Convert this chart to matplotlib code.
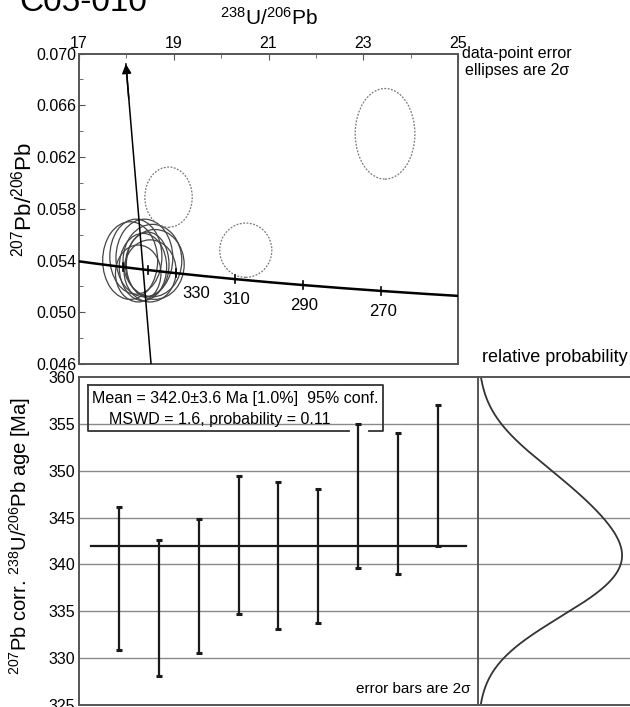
import numpy as np
import matplotlib.pyplot as plt
from matplotlib.patches import Ellipse

plt.rcParams['font.family'] = ['Liberation Sans', 'DejaVu Sans']
plt.rcParams['mathtext.fontset'] = 'custom'
plt.rcParams['mathtext.rm'] = 'Liberation Sans'
plt.rcParams['mathtext.it'] = 'Liberation Sans'

# decay constants (1/yr) and present-day 238U/235U
L238 = 1.55125e-10
L235 = 9.8485e-10
U85 = 137.88

# 207Pb-corrected 238U/206Pb ages, ends of the 2-sigma bars [Ma]
age_hi = [346.1, 342.6, 344.8, 349.4, 348.8, 348.0, 355.0, 354.0, 357.0]
age_lo = [330.9, 328.1, 330.6, 334.7, 333.1, 333.8, 339.6, 339.0, 342.0]
mean_age = 342.0
mean_err = 3.6

# Tera-Wasserburg ellipses of the accepted points (centre, half-axes)
ell_x = [18.08, 18.20, 18.38, 18.55, 18.60, 18.35, 18.45, 18.25, 18.50]
ell_y = [0.0540, 0.0543, 0.0542, 0.0540, 0.0537, 0.0535, 0.0537, 0.0530, 0.0532]
ell_w = [0.58, 0.55, 0.60, 0.62, 0.62, 0.50, 0.45, 0.48, 0.55]
ell_h = [0.0030, 0.0029, 0.0030, 0.0028, 0.0027, 0.0026, 0.0025, 0.0022, 0.0024]

# rejected points (dashed)
rej_x = [18.89, 20.52, 23.46]
rej_y = [0.0589, 0.0548, 0.0638]
rej_w = [0.50, 0.55, 0.63]
rej_h = [0.00233, 0.0021, 0.0035]

conc_ticks = [350, 340, 330, 310, 290, 270]
conc_labels = ['', '', '330', '310', '290', '270']
common_76 = 0.855


def tw_point(t_ma):
    t = np.asarray(t_ma) * 1e6
    e8 = np.exp(L238 * t) - 1
    e5 = np.exp(L235 * t) - 1
    return 1 / e8, e5 / e8 / U85


fig = plt.figure(figsize=(6.3, 7.07), dpi=100)
ax1 = fig.add_axes([0.1254, 0.4851, 0.6016, 0.4391])
ax2 = fig.add_axes([0.1254, 0.0028, 0.6333, 0.4640])
ax3 = fig.add_axes([0.7587, 0.0028, 0.2413, 0.4640], sharey=ax2)

frame = '#555555'
for ax in (ax1, ax2, ax3):
    for s in ax.spines.values():
        s.set_color(frame)
        s.set_linewidth(1.4)

# ---- concordia panel ----
ax1.set_xlim(17, 25)
ax1.set_ylim(0.046, 0.070)
ax1.xaxis.tick_top()
ax1.set_xticks([17, 19, 21, 23, 25])
ax1.set_xticks([18, 20, 22, 24], minor=True)
ax1.set_yticks(np.arange(0.046, 0.0701, 0.004))
ax1.set_yticks(np.arange(0.048, 0.0701, 0.004), minor=True)
ax1.yaxis.set_major_formatter(plt.FormatStrFormatter('%.3f'))
ax1.tick_params(which='both', direction='in', color=frame, labelsize=11.5,
                pad=2, right=False, bottom=False)
ax1.tick_params(which='major', length=4)
ax1.tick_params(which='minor', length=3)
ax1.set_xlabel('$^{238}$U/$^{206}$Pb', fontsize=15, labelpad=8)
ax1.xaxis.set_label_position('top')
ax1.set_ylabel('$^{207}$Pb/$^{206}$Pb', fontsize=16)
ax1.yaxis.set_label_coords(-0.112, 0.53)

t = np.linspace(250, 372, 400)
cx, cy = tw_point(t)
ax1.plot(cx, cy, color='black', lw=1.8, zorder=3)

for tk, lab in zip(conc_ticks, conc_labels):
    px, py = tw_point(tk)
    ax1.plot([px, px], [py - 0.0003, py + 0.0003], color='black', lw=1.2, zorder=3)
    if lab:
        dx = 15 if lab == '330' else 1
        ax1.annotate(lab, (px, py), xytext=(dx, -15), textcoords='offset points',
                     ha='center', va='center', fontsize=12)

for x, y, w, h in zip(ell_x, ell_y, ell_w, ell_h):
    ax1.add_patch(Ellipse((x, y), 2 * w, 2 * h, fill=False,
                          edgecolor='#444444', lw=0.9, zorder=2))
for x, y, w, h in zip(rej_x, rej_y, rej_w, rej_h):
    ax1.add_patch(Ellipse((x, y), 2 * w, 2 * h, fill=False, edgecolor='#777777',
                          lw=0.9, ls=(0, (1.5, 1.2)), zorder=2))

# regression from common Pb through the intercept age
ix, iy = tw_point(mean_age)
slope = (iy - common_76) / ix
y_bot, y_tip = 0.046, 0.0692
x_bot = (y_bot - common_76) / slope
x_tip = (y_tip - common_76) / slope
ax1.plot([x_bot, x_tip], [y_bot, y_tip], color='black', lw=1.1, zorder=3)
y_from = 0.0665
ax1.annotate('', xy=(x_tip, y_tip), xytext=((y_from - common_76) / slope, y_from),
             arrowprops=dict(arrowstyle='-|>', color='black', lw=1.1,
                             mutation_scale=14, shrinkA=0, shrinkB=0))

fig.text(0.82, 0.912, 'data-point error\nellipses are 2σ', ha='center',
         va='center', fontsize=11.5, linespacing=1.2)

# ---- weighted-mean panel ----
n = len(age_hi)
pos = np.arange(1, n + 1)
ax2.set_xlim(0, 10)
ax2.set_ylim(325, 360)
ax2.set_yticks(np.arange(325, 361, 5))
ax2.set_xticks([])
ax2.tick_params(axis='y', length=0, labelsize=11.5, pad=3)
ax2.spines['right'].set_visible(False)
for g in np.arange(330, 360, 5):
    ax2.axhline(g, color='#8a8a8a', lw=1.0, zorder=0)
    ax3.axhline(g, color='#8a8a8a', lw=1.0, zorder=0)

mid = (np.array(age_hi) + np.array(age_lo)) / 2
half = (np.array(age_hi) - np.array(age_lo)) / 2
ax2.errorbar(pos, mid, yerr=half, fmt='none', ecolor='#1a1a1a', elinewidth=1.6,
             capsize=2.5, capthick=2.2, zorder=3)
ax2.plot([0.3, 9.7], [mean_age, mean_age], color='#1a1a1a', lw=1.6, zorder=3)

# results box, open where bar 7 passes through
bx0, bx1, by0, by1 = 0.23, 7.62, 354.25, 359.15
gap0, gap1 = 6.77, 7.27
box_kw = dict(color='#333333', lw=1.3, zorder=4)
ax2.plot([bx0, bx1, bx1, gap1], [by1, by1, by0, by0], **box_kw)
ax2.plot([gap0, bx0, bx0], [by0, by0, by1], **box_kw)
ax2.text(3.91, 357.75, 'Mean = %.1f±%.1f Ma [1.0%%]  95%% conf.' % (mean_age, mean_err),
         ha='center', va='center', fontsize=11.5, zorder=5)
ax2.text(3.53, 355.5, 'MSWD = 1.6, probability = 0.11', ha='center',
         va='center', fontsize=11.5, zorder=5)
ax2.text(9.8, 326.7, 'error bars are 2σ', ha='right', va='center', fontsize=11)
ax2.set_ylabel('$^{207}$Pb corr. $^{238}$U/$^{206}$Pb age [Ma]', fontsize=14.5)
ax2.yaxis.set_label_coords(-0.115, 0.515)

# ---- relative probability ----
ages = np.linspace(325, 360, 500)
sig = half / 1.6
dens = np.zeros_like(ages)
for m, s in zip(mid, sig):
    dens += np.exp(-0.5 * ((ages - m) / s) ** 2) / s
dens /= dens.max()
ax3.plot(dens, ages, color='#333333', lw=1.3)
ax3.set_xlim(0, 1.055)
ax3.set_xticks([])
ax3.tick_params(axis='y', left=False, labelleft=False)
ax3.spines['right'].set_visible(False)
fig.text(0.881, 0.494, 'relative probability', ha='center', va='center',
         fontsize=13)

fig.text(0.03, 0.9844, 'C05-010', ha='left', va='baseline', fontsize=24)

fig.savefig('out.png', dpi=100)
